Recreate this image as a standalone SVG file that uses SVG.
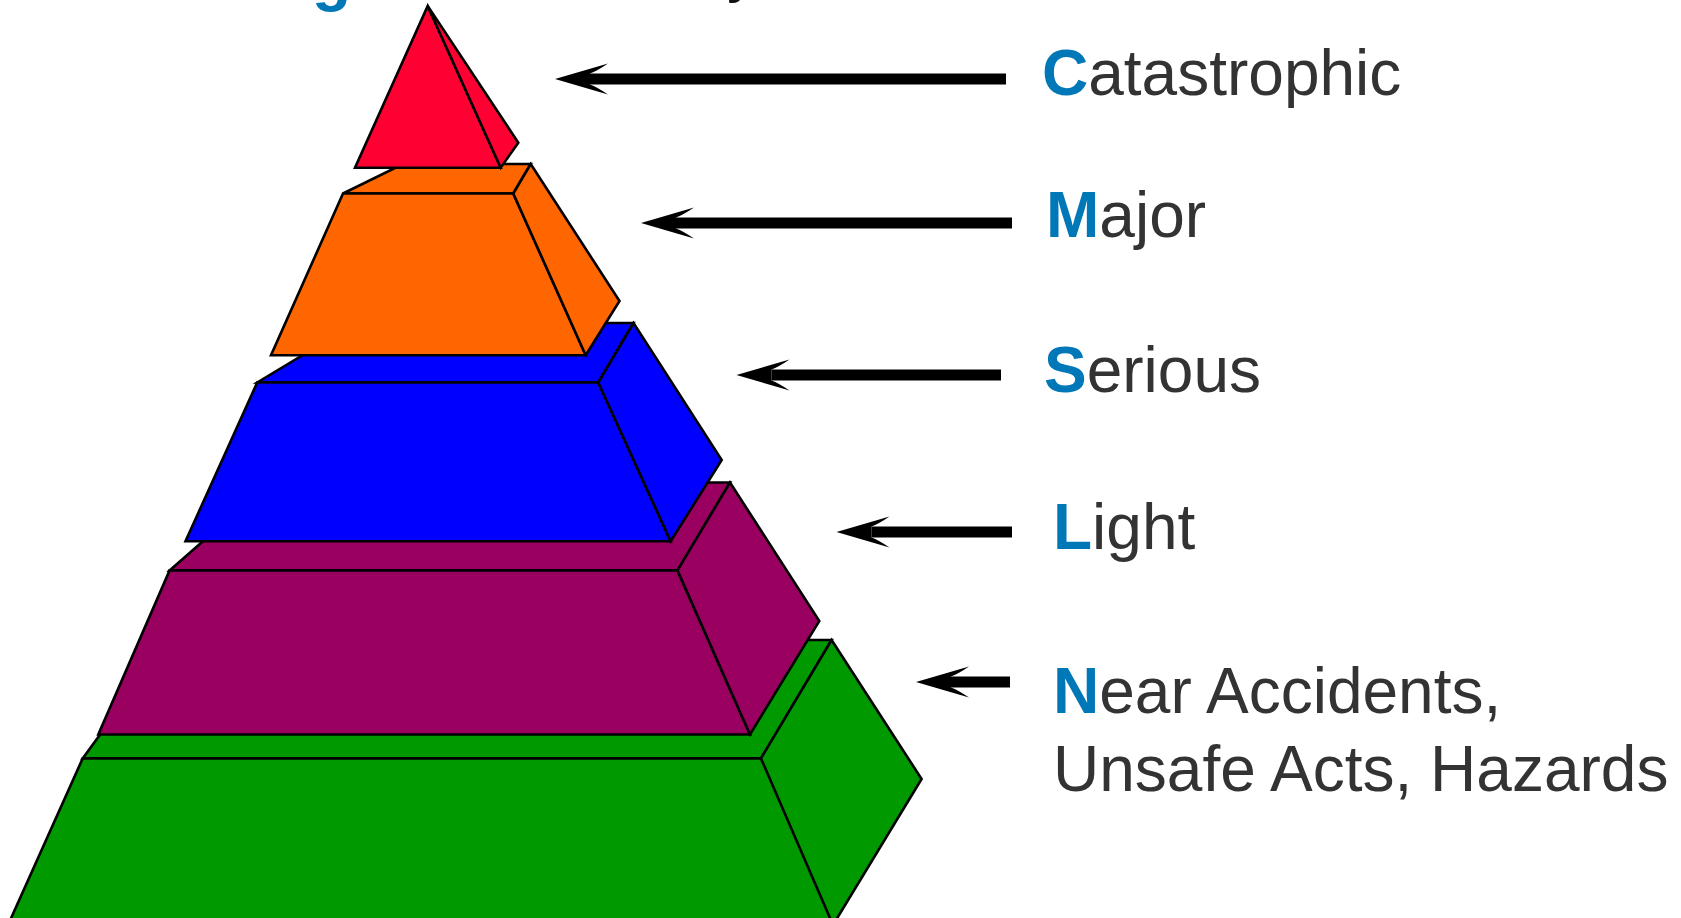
<svg xmlns="http://www.w3.org/2000/svg" width="1681" height="918" viewBox="0 0 1681 918">
  <style>
    .face { stroke: #000; stroke-width: 2.6; stroke-linejoin: miter; }
    .red { fill: #ff0033; }
    .orange { fill: #ff6600; }
    .blue { fill: #0000ff; }
    .purple { fill: #990060; }
    .green { fill: #009900; }
    .lbl { font-family: "Liberation Sans", Arial, sans-serif; font-size: 64px; fill: #333333; }
    .ini { font-weight: bold; fill: #0077b6; }
    .arrow { stroke: #000; stroke-width: 11; fill: none; marker-end: url(#head); }
  </style>
  <defs>
    <marker id="head" markerUnits="userSpaceOnUse" orient="auto" overflow="visible" refX="0" refY="0" markerWidth="60" markerHeight="40" viewBox="-20 -20 60 40">
      <path d="M35,0 L-18,-15.5 Q-7,-8 0,-5.5 L0,5.5 Q-7,8 -18,15.5 Z" fill="#000"/>
    </marker>
  </defs>
  <rect width="1681" height="918" fill="#ffffff"/>

  <!-- cut-off title fragments -->
  <text x="312" y="-1.5" class="lbl ini" style="font-size:64px">g</text>
  <text x="727" y="-10" class="lbl" style="fill:#111">y</text>

  <g id="layer-near">
    <polygon class="face green" points="169,640 831.6,640 761,758.4 82.7,758.4"/>
    <polygon class="face green" points="82.7,758.4 761,758.4 839,925 8,925"/>
    <polygon class="face green" points="761,758.4 831.6,640 921.6,779 833,925"/>
  </g>
  <g id="layer-light">
    <polygon class="face purple" points="270,482.5 730,482.5 677.5,570.4 169.6,570.4"/>
    <polygon class="face purple" points="169.6,570.4 677.5,570.4 750,734.5 98.3,734.5"/>
    <polygon class="face purple" points="677.5,570.4 730,482.5 819.3,621 750,734.5"/>
  </g>
  <g id="layer-serious">
    <polygon class="face blue" points="356,323 633.5,323 598.3,382.5 257.2,382.5"/>
    <polygon class="face blue" points="257.2,382.5 598.3,382.5 670.7,541.3 185.5,541.3"/>
    <polygon class="face blue" points="598.3,382.5 633.5,323 721.7,460 670.7,541.3"/>
  </g>
  <g id="layer-major">
    <polygon class="face orange" points="403,164 530.7,164 513.3,193.5 343,193.5"/>
    <polygon class="face orange" points="343,193.5 513.3,193.5 585.7,355.3 271,355.3"/>
    <polygon class="face orange" points="513.3,193.5 530.7,164 619.5,301 585.7,355.3"/>
  </g>
  <g id="layer-catastrophic">
    <polygon class="face red" points="427.7,6 500.7,167.7 355,167.7"/>
    <polygon class="face red" points="427.7,6 518.3,142.7 500.7,167.7"/>
  </g>

  <g id="connectors">
    <line class="arrow" x1="1006" y1="79" x2="590" y2="79"/>
    <line class="arrow" x1="1012" y1="223" x2="676" y2="223"/>
    <line class="arrow" x1="1001" y1="375" x2="771.5" y2="375"/>
    <line class="arrow" x1="1012" y1="532" x2="871.5" y2="532"/>
    <line class="arrow" x1="1010" y1="682" x2="951" y2="682"/>
  </g>

  <g id="label-catastrophic"><text class="lbl" x="1042" y="95"><tspan class="ini">C</tspan>atastrophic</text></g>
  <g id="label-major"><text class="lbl" x="1046" y="237"><tspan class="ini">M</tspan>ajor</text></g>
  <g id="label-serious"><text class="lbl" x="1044" y="392"><tspan class="ini">S</tspan>erious</text></g>
  <g id="label-light"><text class="lbl" x="1053" y="549"><tspan class="ini">L</tspan>ight</text></g>
  <g id="label-near"><text class="lbl" x="1053" y="713"><tspan class="ini">N</tspan>ear Accidents,</text><text class="lbl" x="1053" y="791">Unsafe Acts, Hazards</text></g>
</svg>
